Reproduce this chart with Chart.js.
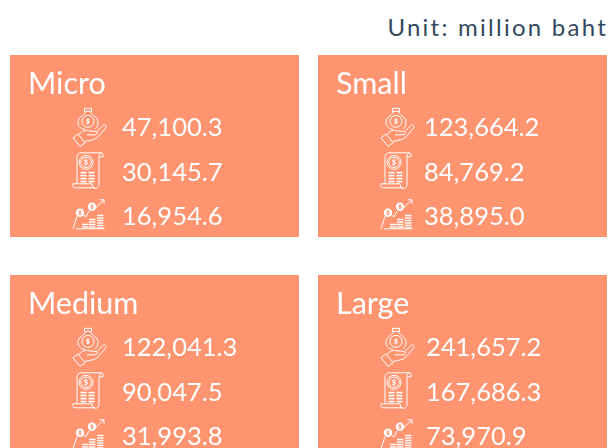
<!DOCTYPE html>
<html><head><meta charset="utf-8">
<style>
html,body{margin:0;padding:0;background:#fff;overflow:hidden;width:611px;height:448px}
#unit{position:absolute;right:3px;top:12px;font:400 24px Lato,sans-serif;letter-spacing:2.25px;color:#34495e;white-space:nowrap}
.panel{position:absolute;width:289px;height:182px;background:#ff9470;overflow:hidden}
canvas{display:block}
</style>
<script src="https://cdn.jsdelivr.net/npm/chart.js@4"></script>
</head><body>
<div id="unit">Unit: million baht</div>
<div class="panel" style="left:10px;top:55px"><canvas id="c0" width="289" height="184"></canvas></div>
<div class="panel" style="left:318px;top:55px"><canvas id="c1" width="289" height="184"></canvas></div>
<div class="panel" style="left:10px;top:275px"><canvas id="c2" width="289" height="184"></canvas></div>
<div class="panel" style="left:318px;top:275px"><canvas id="c3" width="289" height="184"></canvas></div>
<script>
const sizes = ["Micro", "Small", "Medium", "Large"];
const metrics = ["Revenue", "Expenses", "Profit"];
const revenue = [47100.3, 123664.2, 122041.3, 241657.2];
const expenses = [30145.7, 84769.2, 90047.5, 167686.3];
const profit = [16954.6, 38895.0, 31993.8, 73970.9];
const valueInset = [112, 106, 112, 108];
const fontFamily = "Lato, sans-serif";

function dollar(ctx, x, y, s) {
  ctx.beginPath();
  ctx.moveTo(x + s * 0.55, y - s * 0.45);
  ctx.bezierCurveTo(x + s * 0.2, y - s * 0.9, x - s * 0.75, y - s * 0.7, x - s * 0.5, y - s * 0.2);
  ctx.bezierCurveTo(x - s * 0.3, y + s * 0.15, x + s * 0.7, y - s * 0.05, x + s * 0.5, y + s * 0.3);
  ctx.bezierCurveTo(x + s * 0.3, y + s * 0.8, x - s * 0.4, y + s * 0.8, x - s * 0.6, y + s * 0.45);
  ctx.moveTo(x, y - s);
  ctx.lineTo(x, y + s);
  ctx.stroke();
}
function circle(ctx, x, y, r, fill) {
  ctx.beginPath();
  ctx.arc(x, y, r, 0, Math.PI * 2);
  if (fill) ctx.fill(); else ctx.stroke();
}
function handIcon(ctx) {
  ctx.strokeRect(-3.5, -19.5, 7, 3);
  ctx.beginPath();
  ctx.moveTo(-2.5, -16);
  ctx.bezierCurveTo(-4, -12, -10.5, -11, -10, -5);
  ctx.bezierCurveTo(-10, -1, -6, 1.5, -3, 1.5);
  ctx.moveTo(2.5, -16);
  ctx.bezierCurveTo(4, -12, 10.5, -11, 10, -5);
  ctx.bezierCurveTo(10, -2, 8.5, 0, 7, 1);
  ctx.stroke();
  circle(ctx, 0, -6.5, 6);
  dollar(ctx, 0, -6.5, 3);
  ctx.beginPath();
  ctx.moveTo(-15, 10); ctx.lineTo(-10, 6); ctx.lineTo(-3, 15); ctx.lineTo(-8, 18.5); ctx.closePath();
  ctx.stroke();
  ctx.beginPath();
  ctx.moveTo(-9, 6.5);
  ctx.bezierCurveTo(-6, 2.5, -2, 2, 1, 3);
  ctx.lineTo(7, 3.5);
  ctx.bezierCurveTo(10, 3.5, 10, 7, 7, 7);
  ctx.lineTo(-1, 7);
  ctx.moveTo(8.5, 4);
  ctx.lineTo(14.5, -2);
  ctx.bezierCurveTo(16.5, -4.5, 19.5, -2, 17, 1);
  ctx.lineTo(10, 9);
  ctx.bezierCurveTo(7, 12, 3, 12.5, -3, 13.5);
  ctx.stroke();
}
function receiptIcon(ctx) {
  ctx.beginPath();
  ctx.moveTo(-11, 11);
  ctx.lineTo(-11, -15);
  ctx.bezierCurveTo(-11, -18, -9, -19.5, -7, -19.5);
  ctx.lineTo(14, -19.5);
  ctx.bezierCurveTo(11, -19, 11, -16, 11, -14);
  ctx.lineTo(11, 12);
  ctx.bezierCurveTo(11, 16, 7, 17, 5, 15);
  ctx.lineTo(4, 11.5);
  ctx.lineTo(-15, 11.5);
  ctx.bezierCurveTo(-15.5, 14, -15, 15.5, -13, 15.5);
  ctx.lineTo(7, 15.5);
  ctx.moveTo(11, -15.5); ctx.lineTo(15, -15.5); ctx.lineTo(15, -19);
  ctx.stroke();
  circle(ctx, -2, -10, 7);
  circle(ctx, -2, -10, 5.2);
  dollar(ctx, -2, -10, 3.4);
  for (let i = 0; i < 4; i++) {
    ctx.fillRect(-7.5, -0.5 + i * 3, 6, 1.6);
    ctx.fillRect(0.5, -0.5 + i * 3, 6, 1.6);
  }
}
function growthIcon(ctx) {
  ctx.beginPath();
  ctx.moveTo(-15, 12); ctx.lineTo(-11, -0.5);
  ctx.moveTo(-5, -2); ctx.lineTo(-2, 0); ctx.lineTo(1, -6);
  ctx.moveTo(8, -9); ctx.lineTo(9.5, -11); ctx.lineTo(16, -17);
  ctx.moveTo(11.5, -17); ctx.lineTo(16, -17); ctx.lineTo(16, -13);
  ctx.moveTo(-12, 12); ctx.lineTo(16.5, 12);
  ctx.stroke();
  circle(ctx, -8, -4, 4.2, true);
  circle(ctx, 4, -10, 4.2, true);
  ctx.save();
  ctx.strokeStyle = "#ff9470";
  ctx.lineWidth = 0.9;
  dollar(ctx, -8, -4, 2.5);
  dollar(ctx, 4, -10, 2.5);
  ctx.restore();
  [[-6, 7], [1, 2], [9, -2]].forEach(function (s) {
    for (let y = s[1]; y < 11; y += 2.5) ctx.fillRect(s[0], y, 6.5, 1.4);
  });
}
const icons = [handIcon, receiptIcon, growthIcon];

const panelPlugin = {
  id: "panelRows",
  afterDatasetsDraw(chart, args, opts) {
    const ctx = chart.ctx;
    const pts = chart.getDatasetMeta(0).data;
    const values = chart.data.datasets[0].data;
    ctx.save();
    ctx.fillStyle = "#fff";
    ctx.strokeStyle = "#fff";
    ctx.lineWidth = 1;
    pts.forEach(function (pt, i) {
      ctx.save();
      ctx.translate(78, pt.y);
      icons[i](ctx);
      ctx.restore();
      ctx.font = "400 25.5px " + fontFamily;
      ctx.letterSpacing = "0px";
      ctx.textBaseline = "middle";
      ctx.textAlign = "left";
      ctx.fillText(values[i].toLocaleString("en-US", {minimumFractionDigits: 1, maximumFractionDigits: 1}), opts.inset, pt.y);
    });
    ctx.restore();
  }
};

sizes.forEach(function (size, p) {
  new Chart(document.getElementById("c" + p), {
    type: "line",
    plugins: [panelPlugin],
    data: {
      labels: metrics,
      datasets: [{
        label: size,
        data: [revenue[p], expenses[p], profit[p]],
        showLine: false,
        pointRadius: 0
      }]
    },
    options: {
      indexAxis: "y",
      responsive: false,
      animation: false,
      layout: {padding: {left: 18, top: 10.5, right: 0, bottom: 0}},
      scales: {
        x: {display: false, min: 0},
        y: {type: "category", offset: true, display: false}
      },
      plugins: {
        legend: {display: false},
        tooltip: {enabled: false},
        title: {
          display: true,
          text: size,
          align: "start",
          color: "#fff",
          font: {family: fontFamily, size: 30.5, weight: "400", lineHeight: 1.2},
          padding: {top: 0, bottom: 3.5}
        },
        panelRows: {inset: valueInset[p]}
      }
    }
  });
});
</script>
</body></html>
